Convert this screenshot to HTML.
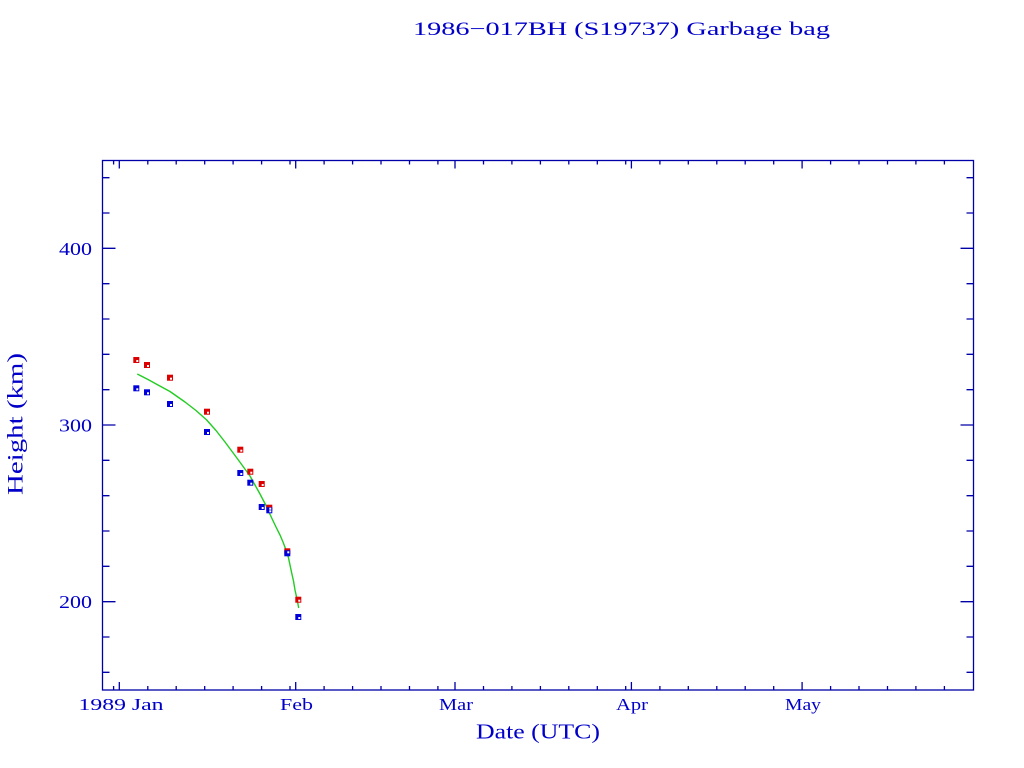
<!DOCTYPE html>
<html><head><meta charset="utf-8"><style>
html,body{margin:0;padding:0;background:#fff;}
svg{display:block;}
text{font-family:"Liberation Serif",serif;fill:#0000c8;}
</style></head><body>
<svg width="1024" height="768" viewBox="0 0 1024 768" xmlns="http://www.w3.org/2000/svg">
<rect width="1024" height="768" fill="#fff"/>
<!-- title -->
<text x="413" y="35" font-size="19" textLength="417" lengthAdjust="spacingAndGlyphs">1986−017BH (S19737) Garbage bag</text>
<!-- frame -->
<rect x="102.5" y="160.5" width="871" height="529.5" fill="none" stroke="#0000a8" stroke-width="1.3"/>
<g stroke="#0000a8" stroke-width="1.3">
<path d="M102.5 601.7h13M102.5 425h13M102.5 248.3h13M973.5 601.7h-13M973.5 425h-13M973.5 248.3h-13"/>
<path d="M102.5 672.3h7M102.5 637h7M102.5 566.3h7M102.5 531h7M102.5 495.7h7M102.5 460.3h7M102.5 389.7h7M102.5 354.3h7M102.5 319h7M102.5 283.7h7M102.5 213h7M102.5 177.7h7
M973.5 672.3h-7M973.5 637h-7M973.5 566.3h-7M973.5 531h-7M973.5 495.7h-7M973.5 460.3h-7M973.5 389.7h-7M973.5 354.3h-7M973.5 319h-7M973.5 283.7h-7M973.5 213h-7M973.5 177.7h-7"/>
<path d="M119.3 690v-8M295.7 690v-8M455 690v-8M631.4 690v-8M802.1 690v-8
M119.3 160.5v8M295.7 160.5v8M455 160.5v8M631.4 160.5v8M802.1 160.5v8"/>
<path d="M113.6 690v-4M147.8 690v-4M176.2 690v-4M204.7 690v-4M233.1 690v-4M261.6 690v-4M290 690v-4
M324.1 690v-4M352.6 690v-4M381 690v-4M409.5 690v-4M437.9 690v-4
M483.5 690v-4M511.9 690v-4M540.4 690v-4M568.8 690v-4M597.3 690v-4M625.7 690v-4
M659.9 690v-4M688.3 690v-4M716.8 690v-4M745.2 690v-4M773.7 690v-4
M830.6 690v-4M859 690v-4M887.5 690v-4M915.9 690v-4M944.4 690v-4
M113.6 160.5v4M147.8 160.5v4M176.2 160.5v4M204.7 160.5v4M233.1 160.5v4M261.6 160.5v4M290 160.5v4
M324.1 160.5v4M352.6 160.5v4M381 160.5v4M409.5 160.5v4M437.9 160.5v4
M483.5 160.5v4M511.9 160.5v4M540.4 160.5v4M568.8 160.5v4M597.3 160.5v4M625.7 160.5v4
M659.9 160.5v4M688.3 160.5v4M716.8 160.5v4M745.2 160.5v4M773.7 160.5v4
M830.6 160.5v4M859 160.5v4M887.5 160.5v4M915.9 160.5v4M944.4 160.5v4"/>
</g>
<!-- y tick labels -->
<text x="59" y="255" font-size="18" textLength="33" lengthAdjust="spacingAndGlyphs">400</text>
<text x="59" y="431.5" font-size="18" textLength="33" lengthAdjust="spacingAndGlyphs">300</text>
<text x="59" y="608" font-size="18" textLength="33" lengthAdjust="spacingAndGlyphs">200</text>
<!-- x tick labels -->
<text x="78.5" y="710" font-size="17" textLength="85" lengthAdjust="spacingAndGlyphs">1989 Jan</text>
<text x="280" y="710" font-size="17" textLength="33" lengthAdjust="spacingAndGlyphs">Feb</text>
<text x="439" y="710" font-size="17" textLength="34" lengthAdjust="spacingAndGlyphs">Mar</text>
<text x="616" y="710" font-size="17" textLength="32" lengthAdjust="spacingAndGlyphs">Apr</text>
<text x="785" y="710" font-size="17" textLength="36" lengthAdjust="spacingAndGlyphs">May</text>
<!-- axis titles -->
<text x="476" y="738.5" font-size="21" textLength="124" lengthAdjust="spacingAndGlyphs">Date (UTC)</text>
<text transform="translate(22.5,495) rotate(-90)" x="0" y="0" font-size="22" textLength="142" lengthAdjust="spacingAndGlyphs">Height (km)</text>
<!-- fit line -->
<polyline fill="none" stroke="#22cc22" stroke-width="1.4" stroke-linejoin="round" points="137.3,374 148,379.5 158,385 170,391.5 185,402 196,410.5 206.7,420 216,430.5 225,442 238,459.5 250,476 260,494 266,505.5 271.7,518 276,527 280,535 283,542 286,550 288.3,557 290,565 291.7,573 293.5,581 295,590 297,599 298.7,608"/>
<!-- markers -->
<g fill="#dd0000">
<rect x="133.3" y="357" width="6" height="6"/>
<rect x="144" y="362" width="6" height="6"/>
<rect x="167" y="374.7" width="6" height="6"/>
<rect x="204" y="408.7" width="6" height="6"/>
<rect x="237.3" y="446.7" width="6" height="6"/>
<rect x="247.3" y="468.7" width="6" height="6"/>
<rect x="258.7" y="481" width="6" height="6"/>
<rect x="266.3" y="504.7" width="6" height="6"/>
<rect x="284.3" y="548.3" width="6" height="6"/>
<rect x="295.3" y="596.7" width="6" height="6"/>
</g>
<g fill="#0000dd">
<rect x="133.3" y="385.3" width="6" height="6"/>
<rect x="144" y="389.3" width="6" height="6"/>
<rect x="167" y="401" width="6" height="6"/>
<rect x="204" y="429" width="6" height="6"/>
<rect x="237.3" y="470" width="6" height="6"/>
<rect x="247.3" y="479.7" width="6" height="6"/>
<rect x="258.7" y="504" width="6" height="6"/>
<rect x="266.3" y="507.3" width="6" height="6"/>
<rect x="284.3" y="550.3" width="6" height="6"/>
<rect x="295.3" y="614" width="6" height="6"/>
</g>
<g fill="#fff">
<rect x="136.3" y="360" width="2" height="2"/><rect x="147" y="365" width="2" height="2"/><rect x="170" y="377.7" width="2" height="2"/><rect x="207" y="411.7" width="2" height="2"/><rect x="240.3" y="449.7" width="2" height="2"/><rect x="250.3" y="471.7" width="2" height="2"/><rect x="261.7" y="484" width="2" height="2"/><rect x="269.3" y="507.7" width="2" height="2"/><rect x="287.3" y="551.3" width="2" height="2"/><rect x="298.3" y="599.7" width="2" height="2"/>
<rect x="136.3" y="388.3" width="2" height="2"/><rect x="147" y="392.3" width="2" height="2"/><rect x="170" y="404" width="2" height="2"/><rect x="207" y="432" width="2" height="2"/><rect x="240.3" y="473" width="2" height="2"/><rect x="250.3" y="482.7" width="2" height="2"/><rect x="261.7" y="507" width="2" height="2"/><rect x="269.3" y="510.3" width="2" height="2"/><rect x="298.3" y="617" width="2" height="2"/>
</g>
</svg>
</body></html>
